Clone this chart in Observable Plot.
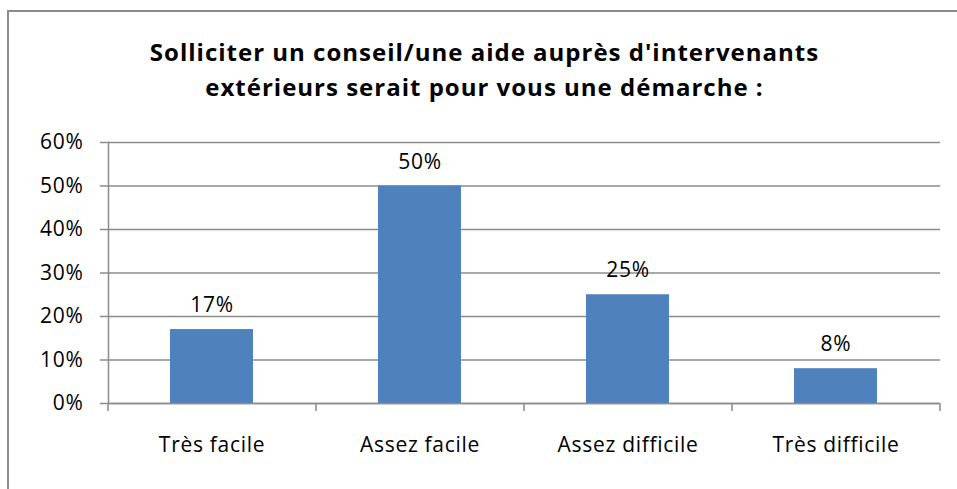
<!DOCTYPE html>
<html>
<head>
<meta charset="utf-8">
<script src="https://cdn.jsdelivr.net/npm/d3@7"></script>
<script src="https://cdn.jsdelivr.net/npm/@observablehq/plot@0.6"></script>
<style>
  html, body { margin: 0; padding: 0; background: #fff; }
  #wrap { position: relative; width: 957px; height: 489px; overflow: hidden; font-family: "Open Sans", sans-serif; }
  #border { position: absolute; left: 7px; top: 10px; width: 960px; height: 490px; border: 2px solid #8c8c8c; border-right: none; border-bottom: none; box-sizing: border-box; }
  #title { position: absolute; left: 6px; top: 34px; width: 957px; text-align: center; font-weight: bold; font-size: 24px; letter-spacing: 1px; line-height: 35px; color: #000; }
  #chart { position: absolute; left: 0; top: 0; }
</style>
</head>
<body>
<div id="wrap">
  <div id="border"></div>
  <div id="title">Solliciter un conseil/une aide auprès d'intervenants<br>extérieurs serait pour vous une démarche :</div>
  <div id="chart"></div>
</div>
<script>
const categories = ["Très facile", "Assez facile", "Assez difficile", "Très difficile"];
const values = [0.17, 0.50, 0.25, 0.08];
const yTicks = [0, 0.1, 0.2, 0.3, 0.4, 0.5, 0.6];

const data = categories.map((c, i) => ({ cat: c, value: values[i] }));

const W = 957, H = 489, mL = 108, mR = 17, mT = 142, mB = 86;
const step = (W - mL - mR) / categories.length;
const fmt = d3.format(".0%");
const grey = "#8c8c8c";
const fs = 21;

const chart = Plot.plot({
  width: W,
  height: H,
  marginLeft: mL,
  marginRight: mR,
  marginTop: mT,
  marginBottom: mB,
  style: { fontFamily: "Open Sans, sans-serif", fontSize: fs + "px", letterSpacing: "0.7px", color: "#000", background: "transparent", overflow: "visible" },
  x: { domain: categories, paddingInner: 0.6, paddingOuter: 0.3, align: 0.5, label: null },
  y: { domain: [0, 0.6], label: null },
  marks: [
    Plot.gridY(yTicks, { stroke: grey, strokeOpacity: 1, strokeWidth: 1.5 }),
    Plot.rectY(data, { x: "cat", y: "value", fill: "#4f81bd" }),
    Plot.axisY(yTicks, { tickFormat: fmt, tickSize: 8, tickPadding: 17, stroke: grey, strokeWidth: 1.5, fontSize: fs, fill: "#000" }),
    Plot.ruleY([0], { stroke: grey, strokeWidth: 1.5 }),
    Plot.frame({ anchor: "left", stroke: grey, strokeWidth: 1.5 }),
    Plot.axisX({ tickSize: 8, tickFormat: null, dx: -step / 2, stroke: grey, strokeWidth: 1.5 }),
    Plot.axisX([categories[categories.length - 1]], { tickSize: 8, tickFormat: null, dx: step / 2, stroke: grey, strokeWidth: 1.5 }),
    Plot.axisX({ tickSize: 0, tickPadding: 34, fontSize: fs, fill: "#000" }),
    Plot.text(data, { x: "cat", y: "value", text: d => fmt(d.value), dy: -24, fontSize: fs, fill: "#000" })
  ]
});
document.getElementById("chart").appendChild(chart);
</script>
</body>
</html>
